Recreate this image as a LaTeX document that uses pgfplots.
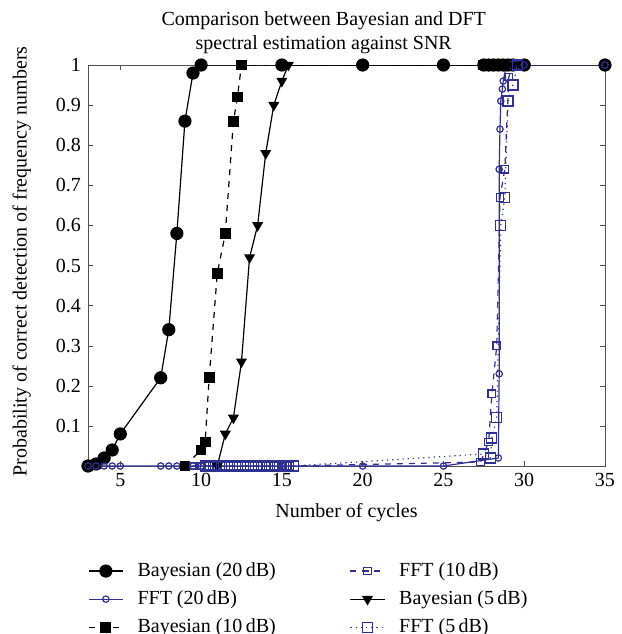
\documentclass[border=0pt]{standalone}
\usepackage{fontspec}
\setmainfont{Liberation Serif}
\usepackage{pgfplots}
\pgfplotsset{compat=1.18}
\definecolor{fftblue}{RGB}{46,49,146}
\definecolor{axgray}{RGB}{80,80,80}
\begin{document}
\begin{tikzpicture}
\path[use as bounding box] (-44pt,-84pt) rectangle (267pt,233pt);
\begin{axis}[
  at={(0,0)}, anchor=south west,
  scale only axis, width=258.5pt, height=200.5pt,
  xmin=3, xmax=35, ymin=0, ymax=1,
  xtick={5,10,15,20,25,30,35},
  ytick={0.1,0.2,0.3,0.4,0.5,0.6,0.7,0.8,0.9,1},
  yticklabels={0.1,0.2,0.3,0.4,0.5,0.6,0.7,0.8,0.9,1},
  tick align=inside,
  major tick length=2.5pt,
  axis line style={axgray},
  tick style={axgray},
  /pgf/number format/assume math mode=true,
  font=\fontsize{10}{12}\selectfont,
  xlabel={Number of cycles},
  ylabel={Probability of correct detection of frequency numbers},
  title={Comparison between Bayesian and DFT\\spectral estimation against SNR},
  title style={align=center, at={(axis description cs:0.456,1)}, anchor=south, yshift=-4pt},
  xlabel style={at={(axis description cs:0.5,-0.115)}, anchor=center},
  ylabel style={at={(axis description cs:-0.128,0.51)}, anchor=center},
  legend style={at={(axis description cs:-0.012,-0.22)}, anchor=north west, draw=none, fill=none,
    font=\fontsize{10}{12}\selectfont, row sep=1.6pt,
    /tikz/every odd column/.append style={column sep=5pt},
    /tikz/every even column/.append style={column sep=35pt}},
  legend cell align=left,
  legend columns=3, transpose legend,
]
% Bayesian 20 dB
\addplot[black, line width=0.6pt, mark=*, mark size=3pt] coordinates {
(3,0)(3.5,0.005)(4,0.02)(4.5,0.04)(5,0.08)(7.5,0.22)(8,0.34)(8.5,0.58)(9,0.86)(9.5,0.98)(10,1)
(15,1)(20,1)(25,1)(27.5,1)(27.8,1)(28.1,1)(28.4,1)(28.7,1)(29.0,1)(29.3,1)(30,1)(35,1)};
\addlegendentry{Bayesian (20\,dB)}
% FFT 20 dB
\addplot[fftblue, line width=0.6pt, mark=o, mark size=1.6pt] coordinates {
(3,0)(3.5,0)(4,0)(4.5,0)(5,0)(7.5,0)(8,0)(8.5,0)(9,0)(9.5,0)(10,0)(15,0)(20,0)(25,0)
(28.4,0.02)(28.45,0.23)(28.45,0.74)(28.5,0.84)(28.55,0.91)(28.65,0.94)(28.7,0.96)(28.9,1)(30,1)(35,1)};
\addlegendentry{FFT (20\,dB)}
% Bayesian 10 dB
\addplot[black, line width=0.6pt, dashed, mark=square*, mark size=2.4pt, mark options={solid}] coordinates {
(9,0)(10,0.04)(10.25,0.06)(10.5,0.22)(11,0.48)(11.5,0.58)(12,0.86)(12.25,0.92)(12.5,1)
(27.5,1)(27.8,1)(28.1,1)(28.4,1)(28.7,1)(29.0,1)(29.3,1)};
\addlegendentry{Bayesian (10\,dB)}
% FFT 10 dB
\addplot[fftblue, line width=0.6pt, dashed, mark=square, mark size=1.9pt, mark options={solid}] coordinates {
(9.5,0)(10,0)(10.5,0)(11,0)(11.5,0)(12,0)(12.5,0)(13,0)(13.5,0)(14,0)(14.5,0)(15,0)(15.5,0)
(27.3,0.01)(27.8,0.06)(28.0,0.18)(28.3,0.30)(28.5,0.67)(28.8,0.74)(29.05,0.97)(29.3,1)};
\addlegendentry{FFT (10\,dB)}
% Bayesian 5 dB
\addplot[black, line width=0.6pt, mark=triangle*, mark size=2.6pt, mark options={rotate=180}] coordinates {
(11,0)(11.5,0.08)(12,0.12)(12.5,0.26)(13,0.52)(13.5,0.60)(14,0.78)(14.5,0.90)(15,0.96)(15.4,1)
(27.5,1)(27.8,1)(28.1,1)(28.4,1)(28.7,1)(29.0,1)(29.3,1)};
\addlegendentry{Bayesian (5\,dB)}
% FFT 5 dB
\addplot[fftblue, line width=0.6pt, dotted, mark=square, mark size=2.5pt, mark options={solid}] coordinates {
(10.25,0)(10.75,0)(11.25,0)(11.75,0)(12.25,0)(12.75,0)(13.25,0)(13.75,0)(14.25,0)(14.75,0)(15.25,0)(15.7,0)
(27.5,0.03)(27.9,0.02)(28.0,0.07)(28.3,0.12)(28.55,0.60)(28.8,0.67)(29.0,0.91)(29.3,0.95)(29.6,1)};
\addlegendentry{FFT (5\,dB)}
\end{axis}
\end{tikzpicture}
\end{document}
